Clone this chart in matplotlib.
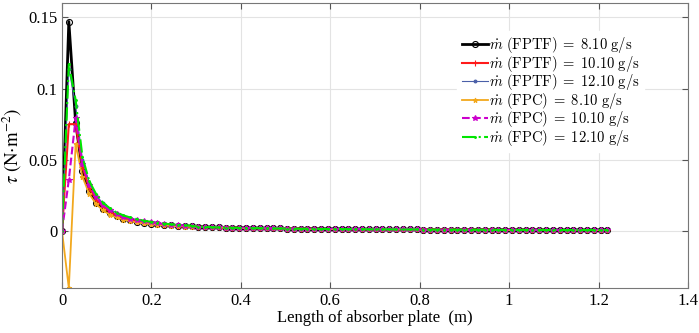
import numpy as np
import matplotlib
matplotlib.use('Agg')
import matplotlib.pyplot as plt
from matplotlib.font_manager import FontProperties

plt.rcParams['font.family'] = 'Liberation Serif'
plt.rcParams['mathtext.fontset'] = 'stix'

# sampling positions along the plate (m)
x_pos = np.linspace(0, 1.22, 81)

# first 20 points of each curve (N/m^2)
head_fptf_810 = [0, 0.147, 0.076, 0.042, 0.028, 0.020, 0.0155, 0.0125, 0.0103, 0.0087,
                 0.0075, 0.0066, 0.0058, 0.0052, 0.0047, 0.0043, 0.0040, 0.0037, 0.0034, 0.0032]
head_fptf_1010 = [0, 0.075, 0.075, 0.045, 0.030, 0.022, 0.017, 0.0135, 0.011, 0.0093,
                  0.0080, 0.0070, 0.0062, 0.0055, 0.0050, 0.0045, 0.0041, 0.0038, 0.0035, 0.0033]
head_fptf_1210 = [0, 0.114, 0.088, 0.050, 0.034, 0.025, 0.0195, 0.0155, 0.0127, 0.0107,
                  0.0092, 0.0080, 0.0071, 0.0063, 0.0056, 0.0051, 0.0046, 0.0042, 0.0039, 0.0036]
head_fpc_810 = [0, -0.040, 0.061, 0.038, 0.026, 0.019, 0.0145, 0.0115, 0.0095, 0.0080,
                0.0069, 0.0060, 0.0053, 0.0048, 0.0043, 0.0039, 0.0036, 0.0033, 0.0031, 0.0029]
head_fpc_1010 = [0, 0.036, 0.079, 0.047, 0.032, 0.024, 0.018, 0.0145, 0.012, 0.010,
                 0.0087, 0.0076, 0.0067, 0.0060, 0.0054, 0.0049, 0.0045, 0.0041, 0.0038, 0.0035]
head_fpc_1210 = [0, 0.117, 0.092, 0.052, 0.035, 0.026, 0.020, 0.016, 0.013, 0.011,
                 0.0095, 0.0083, 0.0073, 0.0065, 0.0058, 0.0052, 0.0047, 0.0043, 0.0040, 0.0037]

# remaining points (x >= 0.3), all curves lie on top of each other here
tail = [0.0030, 0.0028, 0.0027, 0.0025, 0.0024, 0.0023, 0.0022, 0.0021, 0.0020, 0.0020,
        0.0019, 0.0018, 0.0018, 0.0017, 0.0017, 0.0016, 0.0016, 0.0015, 0.0015, 0.0014,
        0.0014, 0.0014, 0.0013, 0.0013, 0.0013, 0.0012, 0.0012, 0.0012, 0.0012, 0.0011,
        0.0011, 0.0011, 0.0011, 0.0010, 0.0010, 0.0010, 0.0010, 0.0010, 0.0009, 0.0009,
        0.0009, 0.0009, 0.0009, 0.0009, 0.0008, 0.0008, 0.0008, 0.0008, 0.0008, 0.0008,
        0.0008, 0.0007, 0.0007, 0.0007, 0.0007, 0.0007, 0.0007, 0.0007, 0.0007, 0.0007,
        0.0007]

labels = [r'$\dot{m}\ \mathrm{(FPTF)}\;=\;8.10\ \mathrm{g/s}$',
          r'$\dot{m}\ \mathrm{(FPTF)}\;=\;10.10\ \mathrm{g/s}$',
          r'$\dot{m}\ \mathrm{(FPTF)}\;=\;12.10\ \mathrm{g/s}$',
          r'$\dot{m}\ \mathrm{(FPC)}\;=\;8.10\ \mathrm{g/s}$',
          r'$\dot{m}\ \mathrm{(FPC)}\;=\;10.10\ \mathrm{g/s}$',
          r'$\dot{m}\ \mathrm{(FPC)}\;=\;12.10\ \mathrm{g/s}$']

heads = [head_fptf_810, head_fptf_1010, head_fptf_1210, head_fpc_810, head_fpc_1010, head_fpc_1210]

# style per curve: color, linestyle, lw, marker, ms, mfc
styles = [
    ('black', '-', 2.0, 'o', 4.3, 'none'),
    ('#ff1a1a', '-', 1.5, '+', 4, '#ff1a1a'),
    ('#4a5fa8', '-', 0.8, 'o', 2.0, '#4a5fa8'),
    ('#f2a81d', '-', 1.3, '*', 3.5, '#f2a81d'),
    ('#cc00cc', '--', 1.5, '*', 3.8, '#cc00cc'),
    ('#00e600', '-.', 1.5, '.', 2.5, '#00e600'),
]

fig = plt.figure(figsize=(6.99, 3.33), dpi=100)
ax = fig.add_axes([0.0887, 0.135, 0.8955, 0.856])

for h, lab, st in zip(heads, labels, styles):
    c, ls, lw, mk, ms, mfc = st
    ax.plot(x_pos, h + tail, color=c, linestyle=ls, linewidth=lw, marker=mk,
            markersize=ms, markerfacecolor=mfc, markeredgewidth=0.8, label=lab)

ax.set_xlim(0, 1.4)
ax.set_ylim(-0.04, 0.16)
ax.set_xticks([0, 0.2, 0.4, 0.6, 0.8, 1, 1.2, 1.4])
ax.set_xticklabels(['0', '0.2', '0.4', '0.6', '0.8', '1', '1.2', '1.4'])
ax.set_yticks([0, 0.05, 0.1, 0.15])
ax.set_yticklabels(['0', '0.05', '0.1', '0.15'])
ax.grid(True, color='#e3e3e3', linewidth=0.8)
ax.set_axisbelow(True)
ax.tick_params(direction='in', top=True, right=True, labelsize=12, length=4, color='#555555')
for sp in ax.spines.values():
    sp.set_color('#777777')
    sp.set_linewidth(0.8)

ax.set_xlabel('Length of absorber plate  (m)', fontsize=12, labelpad=1)
ax.set_ylabel(r'$\tau\ (\mathrm{N{\cdot}m^{-2}})$', fontsize=13.5, labelpad=3)

leg = ax.legend(loc='upper right', bbox_to_anchor=(0.942, 0.928), frameon=True,
                prop=FontProperties(family='DejaVu Serif', size=10.5, math_fontfamily='cm'),
                handlelength=1.8, handletextpad=0.1, labelspacing=-0.1, borderpad=0.3)
leg.get_frame().set_edgecolor('white')
leg.get_frame().set_facecolor('white')
leg.get_frame().set_alpha(1)

fig.savefig('out.png', dpi=100)
